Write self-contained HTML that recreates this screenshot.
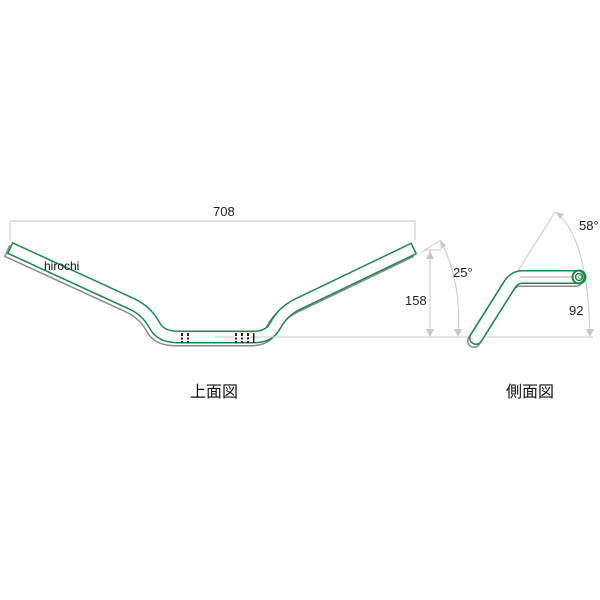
<!DOCTYPE html>
<html><head><meta charset="utf-8"><style>
html,body{margin:0;padding:0;background:#fff;width:600px;height:600px;overflow:hidden}
svg{display:block}
text{font-family:"Liberation Sans","Noto Sans CJK JP",sans-serif}
</style></head><body>
<svg width="600" height="600" viewBox="0 0 600 600" xmlns="http://www.w3.org/2000/svg">
<defs>
<path id="top" d="M15.5 250.5 L132 304 Q147 311 155 326 Q161 337 178 337 L254 337 Q269 337 275 326 Q283 311 298 304 L408.5 251"/>
<path id="side" d="M476 338 L510 284 Q515 277 522 277 L578 277"/>
</defs>
<g stroke="#c8c8c8" stroke-width="1" fill="none">
<line x1="10" y1="221" x2="415" y2="221"/>
<line x1="10" y1="221" x2="10" y2="241"/>
<line x1="415" y1="221" x2="415" y2="240"/>
<line x1="430" y1="250" x2="430" y2="337"/>
<line x1="265" y1="337" x2="593" y2="337"/>
<line x1="420" y1="253" x2="441" y2="240"/>
<line x1="424" y1="250" x2="441" y2="250"/>
<path d="M440 240 Q462 280 458 337"/>
<line x1="555" y1="212" x2="506" y2="290"/>
<path d="M555 212 Q588 235 590 337"/>
<line x1="173" y1="330" x2="173" y2="346"/>
</g>
<g fill="#c8c8c8">
<polygon points="430,251 426,259 434,259"/>
<polygon points="430,337 426,329 434,329"/>
<polygon points="458,337 454,329 462,329"/>
<polygon points="440,240 441,249 446,245"/>
<polygon points="556,212 560,219 564,214"/>
<polygon points="590,337 586,329 594,329"/>
</g>
<g fill="none" stroke-linejoin="round">
<g transform="translate(-3,3)">
<use href="#top" stroke="#8a8a8a" stroke-width="13" stroke-linecap="square"/>
<use href="#top" stroke="#fff" stroke-width="10" stroke-linecap="square"/>
</g>
<use href="#top" stroke="#1a8a4a" stroke-width="13" stroke-linecap="square"/>
<use href="#top" stroke="#fff" stroke-width="10" stroke-linecap="square"/>
<g transform="translate(-2,3)">
<use href="#side" stroke="#8a8a8a" stroke-width="14" stroke-linecap="round"/>
<use href="#side" stroke="#fff" stroke-width="11" stroke-linecap="round"/>
</g>
<use href="#side" stroke="#1a8a4a" stroke-width="14" stroke-linecap="round"/>
<use href="#side" stroke="#fff" stroke-width="11" stroke-linecap="round"/>
<line x1="520" y1="277" x2="574" y2="277" stroke="#aaa" stroke-width="1"/>
<circle cx="579" cy="277" r="6.5" stroke="#1a8a4a" stroke-width="2"/>
<circle cx="579" cy="277" r="3.5" stroke="#1a8a4a" stroke-width="1.5"/>
<circle cx="580" cy="277" r="1.5" stroke="#999" stroke-width="1"/>
</g>
<line x1="215" y1="337" x2="300" y2="337" stroke="#c8c8c8"/>
<g fill="#222">
<rect x="181" y="333" width="2" height="10"/><rect x="187" y="333" width="2" height="10"/>
<rect x="235" y="333" width="2" height="10"/><rect x="241" y="333" width="2" height="10"/><rect x="247" y="333" width="2" height="10"/><rect x="253" y="333" width="1.5" height="10"/>
</g>
<g fill="#fff"><rect x="180" y="336" width="10" height="1.5"/><rect x="180" y="339.5" width="10" height="1.5"/><rect x="234" y="336" width="16" height="1.5"/><rect x="234" y="339.5" width="16" height="1.5"/></g>
<text x="44" y="270" font-size="12" fill="#111">hirochi</text>
<text x="213" y="216" font-size="13" fill="#222">708</text>
<text x="453" y="277" font-size="13" fill="#222">25°</text>
<text x="405" y="305" font-size="13" fill="#222">158</text>
<text x="579" y="230" font-size="13" fill="#222">58°</text>
<text x="569" y="315" font-size="13" fill="#222">92</text>
<text x="190" y="397" font-size="16" fill="#111">上面図</text>
<text x="506" y="397" font-size="16" fill="#111">側面図</text>
</svg>
</body></html>
